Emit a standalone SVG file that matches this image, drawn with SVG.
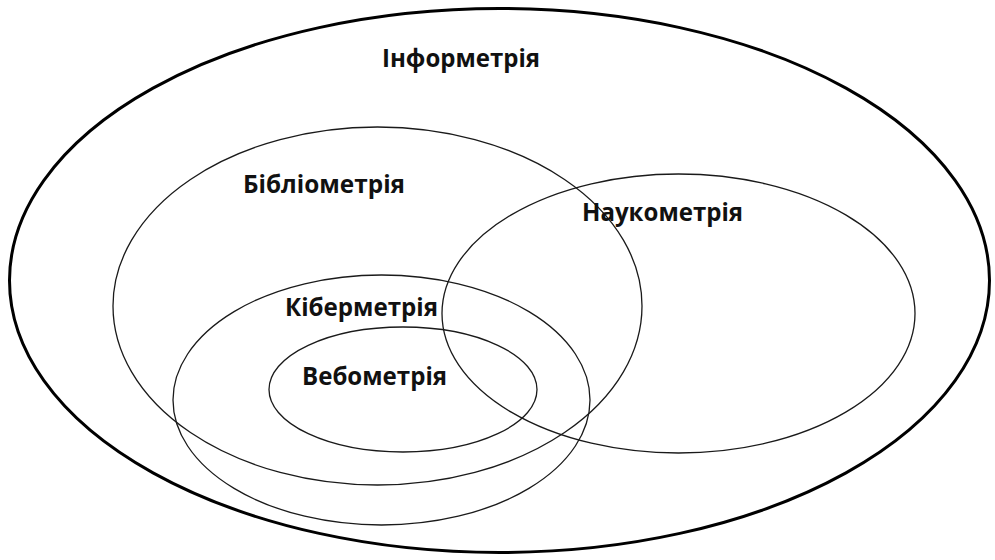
<svg xmlns="http://www.w3.org/2000/svg" width="995" height="560" viewBox="0 0 995 560">
<style>
.bg{fill:#ffffff}
.outer{fill:none;stroke:#000;stroke-width:3}
.set{fill:none;stroke:#1a1a1a;stroke-width:1.3}
.lbl{font-family:"Open Sans","Noto Sans","Liberation Sans",sans-serif;font-weight:700;font-size:25px;fill:#111}
</style>
<rect class="bg" x="0" y="0" width="995" height="560"/>
<g id="informetry">
<ellipse class="outer" cx="499.5" cy="280.5" rx="490" ry="272"/>
<text class="lbl" x="382" y="67" textLength="158" lengthAdjust="spacingAndGlyphs">Інформетрія</text>
</g>
<g id="bibliometry">
<ellipse class="set" cx="377.5" cy="306" rx="264.5" ry="179"/>
<text class="lbl" x="243" y="193" textLength="162" lengthAdjust="spacingAndGlyphs">Бібліометрія</text>
</g>
<g id="scientometry">
<ellipse class="set" cx="678.5" cy="313.5" rx="236.5" ry="139.5"/>
<text class="lbl" x="582" y="221" textLength="161" lengthAdjust="spacingAndGlyphs">Наукометрія</text>
</g>
<g id="cybermetry">
<ellipse class="set" cx="381.5" cy="400" rx="208.5" ry="125"/>
<text class="lbl" x="285" y="316" textLength="153" lengthAdjust="spacingAndGlyphs">Кіберметрія</text>
</g>
<g id="webometry">
<ellipse class="set" cx="403" cy="389.5" rx="134" ry="62.5"/>
<text class="lbl" x="302" y="385" textLength="145" lengthAdjust="spacingAndGlyphs">Вебометрія</text>
</g>
<g id="connectors"/>
</svg>
